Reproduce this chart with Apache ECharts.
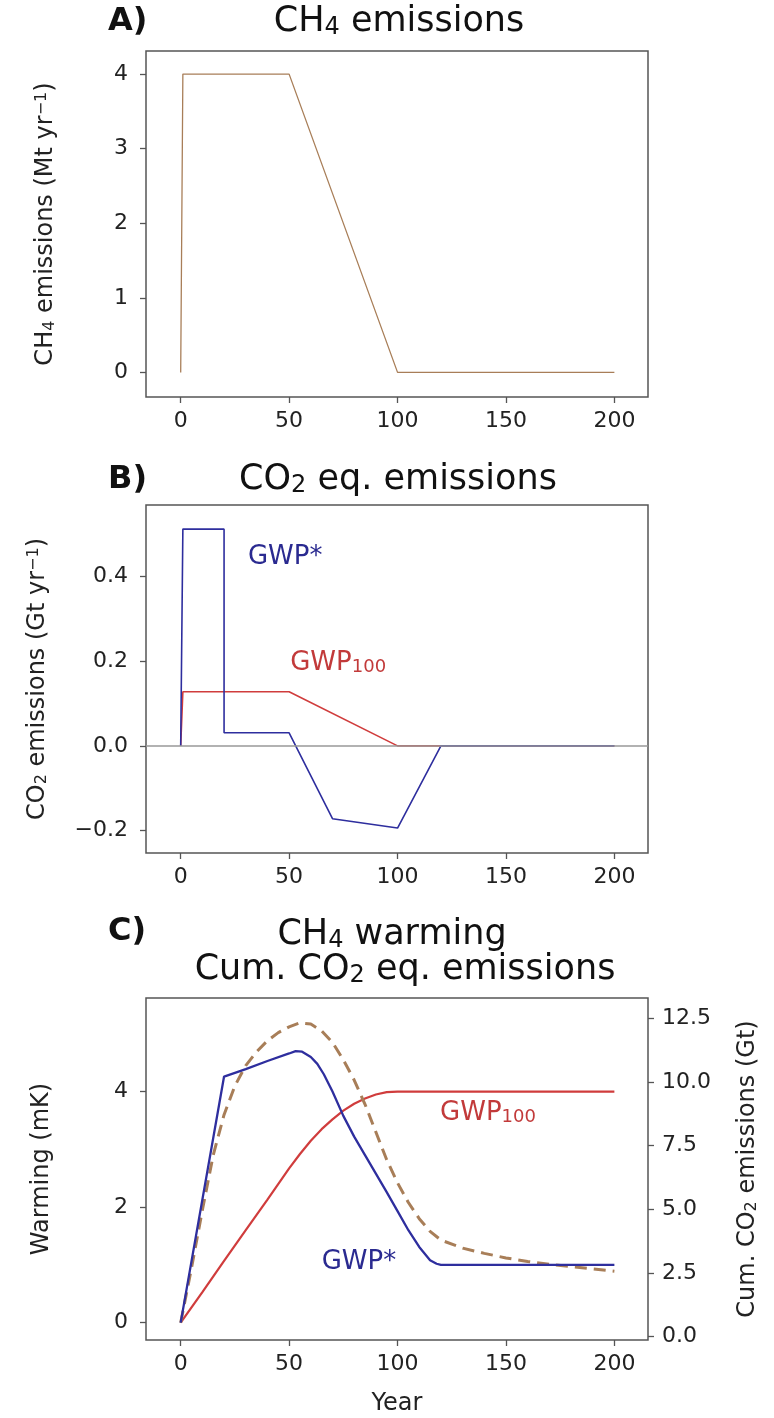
<!DOCTYPE html>
<html><head><meta charset="utf-8">
<script src="https://cdn.jsdelivr.net/npm/echarts@6/dist/echarts.min.js"></script>
<style>html,body{margin:0;padding:0;background:#fff}#c{width:774px;height:1418px}</style>
</head><body><div id="c"></div>
<script>
// ---------- DATA ----------
const xTicks = [0, 50, 100, 150, 200];
// Panel A: CH4 emissions (Mt/yr)
const aYears = [0, 1, 50, 100, 200];
const aCH4 = [0, 4, 4, 0, 0];
const aTicks = [0, 1, 2, 3, 4];
// Panel B: CO2 eq. emissions (Gt/yr)
const bStarYears = [0, 1, 20, 20, 50, 70, 100, 120, 200];
const bStar = [0, 0.512, 0.512, 0.031, 0.031, -0.172, -0.194, 0, 0];
const b100Years = [0, 1, 50, 100, 200];
const b100 = [0, 0.128, 0.128, 0, 0];
const bTicks = [-0.2, 0, 0.2, 0.4];
// Panel C: warming (mK)
const cStarYears = [0, 20, 30, 40, 50, 53, 56, 60, 63, 66, 70, 75, 80, 85, 90, 95, 100, 105, 110, 115, 118, 120, 200];
const cStar = [0, 4.26, 4.39, 4.53, 4.66, 4.70, 4.69, 4.60, 4.48, 4.30, 4.00, 3.58, 3.22, 2.90, 2.58, 2.26, 1.93, 1.60, 1.31, 1.08, 1.02, 1.0, 1.0];
const c100Years = [0, 10, 20, 30, 40, 50, 55, 60, 65, 70, 75, 80, 85, 90, 95, 100, 200];
const c100 = [0, 0.53, 1.07, 1.6, 2.13, 2.67, 2.92, 3.15, 3.35, 3.52, 3.67, 3.79, 3.88, 3.95, 3.99, 4.0, 4.0];
const cCH4Years = [0, 5, 10, 15, 20, 25, 30, 35, 40, 45, 50, 55, 60, 65, 70, 75, 80, 85, 90, 95, 100, 105, 110, 115, 120, 130, 140, 150, 160, 170, 180, 190, 200];
const cCH4 = [0, 0.95, 1.95, 2.9, 3.6, 4.1, 4.45, 4.69, 4.88, 5.02, 5.12, 5.19, 5.17, 5.05, 4.85, 4.55, 4.2, 3.78, 3.3, 2.82, 2.42, 2.08, 1.8, 1.58, 1.43, 1.29, 1.2, 1.12, 1.06, 1.01, 0.97, 0.93, 0.89];
const cLeftTicks = [0, 2, 4];
const cRightTicks = [0, 2.5, 5, 7.5, 10, 12.5];

// ---------- STYLE ----------
const FONT = 'DejaVu Sans';
const AX = '#555';
const TXT = '#222';
const BLUE = '#2e2e9e';
const RED = '#d03c3c';
const BROWN = '#a87e58';
const pairs = (xs, ys) => xs.map((x, i) => [x, ys[i]]);
const subRich = (size) => ({
  s: { fontSize: size, verticalAlign: 'bottom', fontFamily: FONT },
  p: { fontSize: size, verticalAlign: 'top', fontFamily: FONT }
});

const grids = [
  { left: 146, right: 126, top: 51, height: 346 },
  { left: 146, right: 126, top: 505, height: 348 },
  { left: 146, right: 126, top: 998, height: 342 }
].map(g => Object.assign({ show: true, borderColor: AX, borderWidth: 1.5, backgroundColor: '#fff', containLabel: false }, g));

function xAx(gi, extra) {
  return Object.assign({
    type: 'value', gridIndex: gi, min: -16, max: 215.5, position: 'bottom',
    axisLine: { show: false, onZero: false },
    axisTick: { show: true, length: 6, customValues: xTicks, lineStyle: { color: AX, width: 1.3 } },
    axisLabel: { customValues: xTicks, fontSize: 22, color: TXT, margin: 13, fontFamily: FONT },
    splitLine: { show: false }
  }, extra || {});
}
function yAx(gi, min, max, ticks, fmt, extra) {
  return Object.assign({
    type: 'value', gridIndex: gi, min: min, max: max,
    axisLine: { show: false, onZero: false },
    axisTick: { show: true, length: 6, customValues: ticks, lineStyle: { color: AX, width: 1.3 } },
    axisLabel: { customValues: ticks, fontSize: 22, color: TXT, margin: 18, fontFamily: FONT, formatter: fmt },
    splitLine: { show: false },
    nameLocation: 'middle', nameRotate: 90,
    nameTextStyle: { fontSize: 24, color: TXT, fontFamily: FONT, rich: subRich(16) }
  }, extra || {});
}
const minus = v => String(v).replace('-', '\u2212');

const textLabel = (txt, color, size) => ({
  show: true, position: 'inside', align: 'left', verticalAlign: 'middle',
  formatter: txt, color: color, fontSize: size, fontFamily: FONT,
  rich: { s: { fontSize: Math.round(size * 0.7), verticalAlign: 'bottom', color: color, fontFamily: FONT } }
});

const option = {
  animation: false,
  backgroundColor: '#fff',
  grid: grids,
  xAxis: [xAx(0), xAx(1), xAx(2, { name: 'Year', nameLocation: 'middle', nameGap: 52, nameTextStyle: { fontSize: 24, color: TXT, fontFamily: FONT } })],
  yAxis: [
    yAx(0, -0.33, 4.31, aTicks, v => v, { position: 'left', name: 'CH{s|4} emissions (Mt yr{p|\u22121})', nameGap: 88 }),
    yAx(1, -0.253, 0.569, bTicks, v => minus(v.toFixed(1)), { position: 'left', name: 'CO{s|2} emissions (Gt yr{p|\u22121})', nameGap: 96 }),
    yAx(2, -0.3, 5.62, cLeftTicks, v => v, { position: 'left', name: 'Warming (mK)', nameGap: 92 }),
    yAx(2, -0.13, 13.29, cRightTicks, v => v.toFixed(1), { position: 'right', name: 'Cum. CO{s|2} emissions (Gt)', nameGap: 88,
      axisLabel: { customValues: cRightTicks, fontSize: 22, color: TXT, margin: 14, fontFamily: FONT, formatter: v => v.toFixed(1) } })
  ],
  graphic: [
    { type: 'text', x: 108, y: 22, style: { text: 'A)', fontSize: 32, fontWeight: 'bold', fontFamily: FONT, fill: '#111', verticalAlign: 'middle' } },
    { type: 'text', x: 399, y: 22, style: { text: 'CH{s|4} emissions', fontSize: 35, fontFamily: FONT, fill: '#111', align: 'center', verticalAlign: 'middle', rich: subRich(24) } },
    { type: 'text', x: 108, y: 480, style: { text: 'B)', fontSize: 32, fontWeight: 'bold', fontFamily: FONT, fill: '#111', verticalAlign: 'middle' } },
    { type: 'text', x: 398, y: 480, style: { text: 'CO{s|2} eq. emissions', fontSize: 35, fontFamily: FONT, fill: '#111', align: 'center', verticalAlign: 'middle', rich: subRich(24) } },
    { type: 'text', x: 108, y: 932, style: { text: 'C)', fontSize: 32, fontWeight: 'bold', fontFamily: FONT, fill: '#111', verticalAlign: 'middle' } },
    { type: 'text', x: 392, y: 935, style: { text: 'CH{s|4} warming', fontSize: 35, fontFamily: FONT, fill: '#111', align: 'center', verticalAlign: 'middle', rich: subRich(24) } },
    { type: 'text', x: 405, y: 970, style: { text: 'Cum. CO{s|2} eq. emissions', fontSize: 35, fontFamily: FONT, fill: '#111', align: 'center', verticalAlign: 'middle', rich: subRich(24) } }
  ],
  series: [
    { type: 'line', xAxisIndex: 0, yAxisIndex: 0, data: pairs(aYears, aCH4), showSymbol: false, lineStyle: { color: BROWN, width: 1.3 }, z: 3 },
    { type: 'line', xAxisIndex: 1, yAxisIndex: 1, data: [], showSymbol: false, z: 1,
      markLine: { silent: true, symbol: 'none', label: { show: false }, lineStyle: { color: '#999', width: 1.5, type: 'solid' }, data: [{ yAxis: 0 }] } },
    { type: 'line', xAxisIndex: 1, yAxisIndex: 1, data: pairs(b100Years, b100), showSymbol: false, lineStyle: { color: RED, width: 1.6 }, z: 3,
      markPoint: { symbol: 'circle', symbolSize: 0, silent: true, data: [{ coord: [50.5, 0.196], label: textLabel('GWP{s|100}', '#c23a3a', 26) }] } },
    { type: 'line', xAxisIndex: 1, yAxisIndex: 1, data: pairs(bStarYears, bStar), showSymbol: false, lineStyle: { color: BLUE, width: 1.6 }, z: 4,
      markPoint: { symbol: 'circle', symbolSize: 0, silent: true, data: [{ coord: [31, 0.446], label: textLabel('GWP*', '#2a2a90', 26) }] } },
    { type: 'line', xAxisIndex: 2, yAxisIndex: 2, data: pairs(c100Years, c100), showSymbol: false, lineStyle: { color: RED, width: 2.2 }, z: 3,
      markPoint: { symbol: 'circle', symbolSize: 0, silent: true, data: [{ coord: [119.6, 3.63], label: textLabel('GWP{s|100}', '#c23a3a', 26) }] } },
    { type: 'line', xAxisIndex: 2, yAxisIndex: 2, data: pairs(cCH4Years, cCH4), showSymbol: false, lineStyle: { color: BROWN, width: 3, type: [12, 7] }, z: 4 },
    { type: 'line', xAxisIndex: 2, yAxisIndex: 2, data: pairs(cStarYears, cStar), showSymbol: false, lineStyle: { color: BLUE, width: 2.3 }, z: 5,
      markPoint: { symbol: 'circle', symbolSize: 0, silent: true, data: [{ coord: [65, 1.05], label: textLabel('GWP*', '#2a2a90', 26) }] } }
  ]
};
const chart = echarts.init(document.getElementById('c'), null, { renderer: 'canvas' });
chart.setOption(option);
</script>
</body></html>
